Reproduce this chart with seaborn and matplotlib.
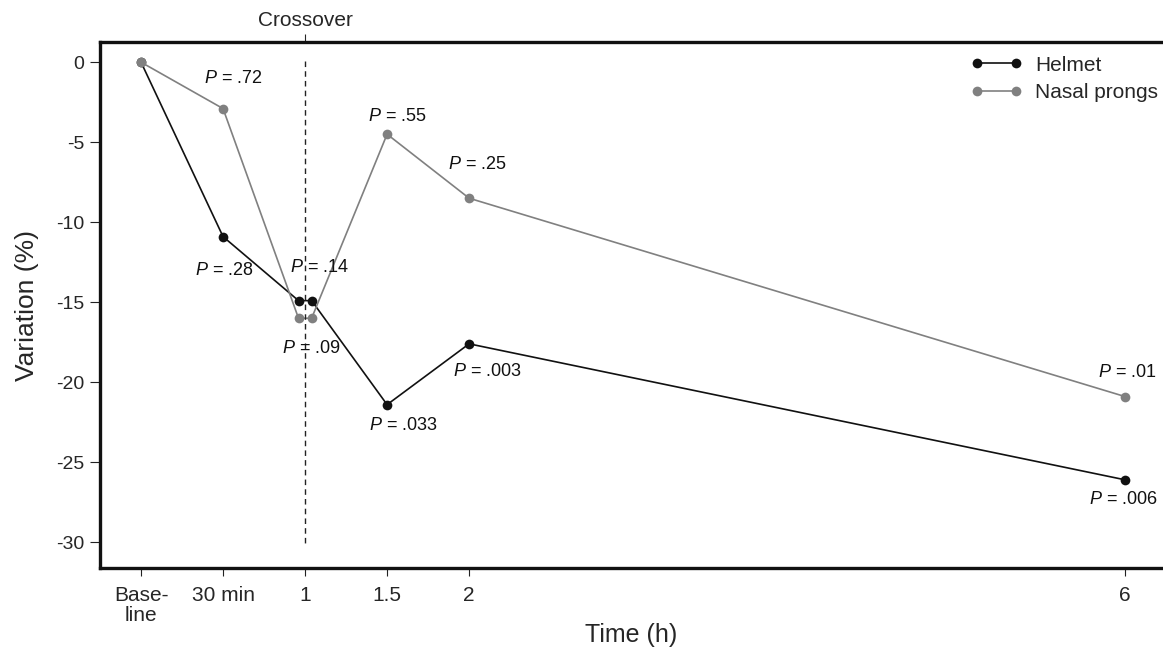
import pandas as pd
import seaborn as sns
import matplotlib.pyplot as plt

# time in hours; the 1 h reading is split either side of the crossover
time_h = [0, 0.5, 0.96, 1.04, 1.5, 2, 6]
helmet = [0, -10.9, -14.9, -14.9, -21.4, -17.6, -26.1]
nasal = [0, -2.9, -16.0, -16.0, -4.5, -8.5, -20.9]

tick_pos = [0, 0.5, 1, 1.5, 2, 6]
tick_labels = ['Base-\nline', '30 min', '1', '1.5', '2', '6']

# P value labels: (x, y, text)
helmet_p = [(0.51, -13.0, '.28'), (1.09, -12.8, '.14'), (1.6, -22.7, '.033'),
            (2.11, -19.3, '.003'), (5.99, -27.3, '.006')]
nasal_p = [(0.56, -1.0, '.72'), (1.04, -17.9, '.09'), (1.56, -3.4, '.55'),
           (2.05, -6.4, '.25'), (6.01, -19.4, '.01')]

sns.set_style('ticks')
plt.rcParams['font.family'] = ['Liberation Sans', 'DejaVu Sans']
plt.rcParams['mathtext.fontset'] = 'custom'
plt.rcParams['mathtext.rm'] = 'Liberation Sans'
plt.rcParams['mathtext.it'] = 'Liberation Sans:italic'

df = pd.DataFrame({'time': time_h, 'Helmet': helmet, 'Nasal prongs': nasal})

fig = plt.figure(figsize=(11.63, 6.49), dpi=100)
ax = fig.add_axes([0.086, 0.125, 0.914, 0.81])

colors = {'Helmet': '#111111', 'Nasal prongs': '#808080'}
for name in ['Helmet', 'Nasal prongs']:
    sns.lineplot(data=df, x='time', y=name, ax=ax, color=colors[name], label=name,
                 marker='o', markersize=7, markeredgewidth=0, linewidth=1.2,
                 estimator=None, sort=False)

# crossover marker
ax.plot([1, 1], [0.1, -30.2], color='#222222', linestyle=(0, (4, 3)), linewidth=1)

for x, y, t in helmet_p + nasal_p:
    ax.text(x, y, '$P$ = ' + t, ha='center', va='center', fontsize=13, color='#111111')

ax.set_xlim(-0.25, 6.23)
ax.set_ylim(-31.6, 1.25)
ax.set_xticks(tick_pos)
ax.set_xticklabels(tick_labels, fontsize=15, linespacing=1.1)
ax.set_yticks([0, -5, -10, -15, -20, -25, -30])
ax.set_yticklabels(['0', '-5', '-10', '-15', '-20', '-25', '-30'], fontsize=14)
ax.tick_params(axis='x', direction='out', length=6, width=0.8, color='#222222', pad=7)
ax.tick_params(axis='y', direction='out', length=7, width=0.8, color='#222222', pad=4.5)
ax.set_xlabel('Time (h)', fontsize=18)
ax.xaxis.set_label_coords(0.5, -0.105)
ax.set_ylabel('Variation (%)', fontsize=19, labelpad=12)

for s in ['left', 'bottom', 'top']:
    ax.spines[s].set_linewidth(2.4)
    ax.spines[s].set_color('#111111')
ax.spines['right'].set_visible(False)

top = ax.secondary_xaxis('top')
top.set_xticks([1])
top.set_xticklabels(['Crossover'], fontsize=15)
top.tick_params(direction='out', length=6, width=0.8, pad=3)
top.spines['top'].set_visible(False)

ax.legend(loc='upper right', bbox_to_anchor=(1.003, 0.99), numpoints=2, frameon=False,
          fontsize=15, handlelength=2.5, handletextpad=0.6, labelspacing=0.4,
          borderaxespad=0.0)

fig.savefig('out.png', dpi=100)
